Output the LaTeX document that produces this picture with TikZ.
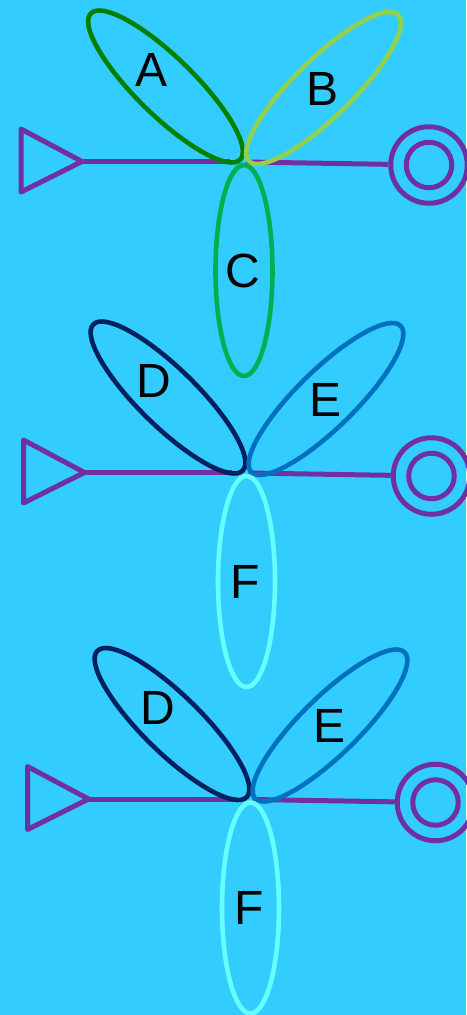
\documentclass[tikz,border=0pt]{standalone}
\usepackage{fontspec}
\setmainfont{Liberation Sans}
\usetikzlibrary{shapes.geometric}
\definecolor{bg}{RGB}{51,204,255}
\definecolor{lnpurple}{RGB}{112,48,160}
\definecolor{cA}{RGB}{0,128,0}
\definecolor{cB}{RGB}{146,208,80}
\definecolor{cC}{RGB}{0,176,80}
\definecolor{cD}{RGB}{0,32,96}
\definecolor{cE}{RGB}{0,112,192}
\definecolor{cF}{RGB}{102,255,255}
\begin{document}
\begin{tikzpicture}[x=1pt,y=-1pt,
  petal/.style={ellipse, draw=#1, line width=4.6pt, inner sep=0pt, outer sep=0pt, minimum width=209pt, minimum height=58pt},
  lbl/.style={font=\fontsize{48}{58}\selectfont, text=black, inner sep=0pt},
  wire/.style={draw=lnpurple, line width=5pt},
  ring/.style={circle, draw=lnpurple, line width=5pt, inner sep=0pt, minimum size=#1},
]
\useasboundingbox (0,0) rectangle (466,1015);
\fill[bg] (0,0) rectangle (466,1015);
\foreach \i/\sx/\sy/\la/\lb/\lc/\ca/\cb/\cc in {1/0/0/A/B/C/cA/cB/cC, 2/2.5/311/D/E/F/cD/cE/cF, 3/6.5/637.5/D/E/F/cD/cE/cF}{
  \begin{scope}[shift={(\sx,\sy)}]
    % source triangle and left wire
    \coordinate (T\i) at (82,161.5);
    \coordinate (Tt\i) at (21,129);
    \coordinate (Tb\i) at (21,192);
    \draw[wire, line join=round] (Tt\i) -- (T\i) -- (Tb\i) -- cycle;
    \coordinate (L\i) at (229.5,161.5);
    \draw[wire] (T\i) -- (L\i);
    % sink double circle and right wire
    \node[ring=76.5pt] (O\i) at (429,165) {};
    \node[ring=45.5pt] (Oi\i) at (429,165) {};
    \coordinate (V\i) at (246,162);
    \draw[wire] (V\i) -- (O\i);
    % petals
    \node[petal=\ca, rotate=-44.4] (P1\i) at (165.5,86.5) {};
    \node[petal=\cb, rotate=44.4] (P2\i) at (323.5,88) {};
    \node[petal=\cc, rotate=90, minimum width=211pt, minimum height=57pt] (P3\i) at (244,270.5) {};
    % labels
    \node[lbl] (N1\i) at (151.3,70) {\la};
    \node[lbl] (N2\i) at (323,88.5) {\lb};
    \node[lbl] (N3\i) at (243,270.5) {\lc};
  \end{scope}
}
\end{tikzpicture}
\end{document}
